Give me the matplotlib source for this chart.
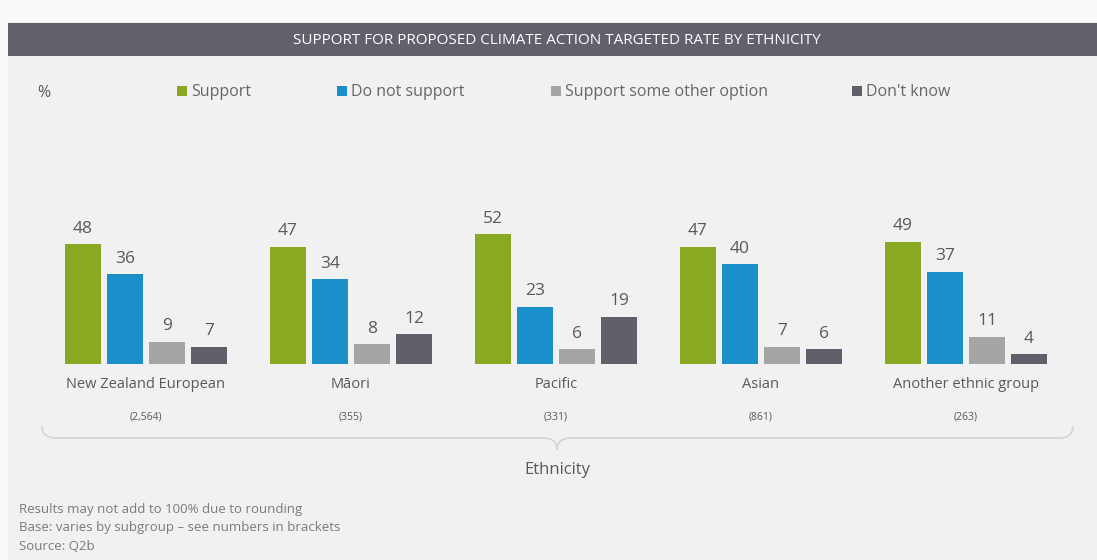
import matplotlib

matplotlib.use("Agg")

import matplotlib.pyplot as plt
import numpy as np
from matplotlib import font_manager
from matplotlib.patches import PathPatch, Rectangle
from matplotlib.path import Path

groups = ["New Zealand European", "Māori", "Pacific", "Asian", "Another ethnic group"]
bases = ["(2,564)", "(355)", "(331)", "(861)", "(263)"]
series = ["Support", "Do not support", "Support some other option", "Don't know"]
support = [48, 47, 52, 47, 49]
not_support = [36, 34, 23, 40, 37]
other_option = [9, 8, 6, 7, 11]
dont_know = [7, 12, 19, 6, 4]
notes = [
    "Results may not add to 100% due to rounding",
    "Base: varies by subgroup \u2013 see numbers in brackets",
    "Source: Q2b",
]

COLORS = ["#8aa923", "#1a8fca", "#a5a5a5", "#615f69"]
BG = "#f1f1f1"
TEXT = "#595959"

W, H = 1097, 560
installed = {f.name for f in font_manager.fontManager.ttflist}
BODY_FONT = "Open Sans" if "Open Sans" in installed else "DejaVu Sans"
TITLE_FONT = "Liberation Sans Narrow" if "Liberation Sans Narrow" in installed else "DejaVu Sans Condensed"
if TITLE_FONT not in installed:
    TITLE_FONT = BODY_FONT
plt.rcParams["font.family"] = [BODY_FONT, "DejaVu Sans"]

fig = plt.figure(figsize=(W / 100, H / 100), dpi=100)
fig.patch.set_facecolor("#fafafa")


def px(x, y):
    """pixel (from top-left) -> figure fraction"""
    return x / W, 1 - y / H


# panel background and title bar
fig.patches.append(Rectangle((8 / W, 0), 1, 1 - 22 / H, transform=fig.transFigure,
                             facecolor=BG, edgecolor="none", zorder=0))
fig.patches.append(Rectangle((8 / W, 1 - 56 / H), 1, 33 / H, transform=fig.transFigure,
                             facecolor="#63606b", edgecolor="none", zorder=1))
fig.text(*px(557, 40), "SUPPORT FOR PROPOSED CLIMATE ACTION TARGETED RATE BY ETHNICITY",
         color="white", fontsize=11, family=TITLE_FONT, ha="center", va="center")

# legend row
fig.text(*px(37, 93), "%", color=TEXT, fontsize=11.5, ha="left", va="center")
legend_x = [177, 337, 551, 852]
for name, color, lx in zip(series, COLORS, legend_x):
    fig.patches.append(Rectangle(px(lx, 96), 10 / W, 10 / H, transform=fig.transFigure,
                                 facecolor=color, edgecolor="none", zorder=2))
    fig.text(*px(lx + 14, 92), name, color="#666666", fontsize=11.5, ha="left", va="center")

# bars: one unit on x = spacing between groups (205 px), 2.5 px per percent
spacing = 205.0
first_center = 146.0
ax = fig.add_axes([0, (H - 364) / H, 1, 300 / H])
ax.set_zorder(3)
ax.set_xlim(-first_center / spacing, (W - first_center) / spacing)
ax.set_ylim(0, 120)
ax.axis("off")

x = np.arange(len(groups))
step = 42 / spacing
width = 36 / spacing
for i, (values, color) in enumerate(zip([support, not_support, other_option, dont_know], COLORS)):
    pos = x + (i - 1.5) * step
    bars = ax.bar(pos, values, width=width, color=color)
    for bar, v in zip(bars, values):
        ax.text(bar.get_x() + bar.get_width() / 2, v + 2.9, f"{v}",
                ha="center", va="bottom", fontsize=12.5, color=TEXT)

for xi, name, base in zip(x, groups, bases):
    ax.text(xi, -8.4, name, ha="center", va="center", fontsize=10.5, color=TEXT, clip_on=False)
    ax.text(xi, -21.3, base, ha="center", va="center", fontsize=7.5, color=TEXT, clip_on=False)

# curly brace under the groups
left, right, mid = 42, 1073, 557
y_top, y_line, y_tip = 426, 438, 450


def to_fig(points):
    return [(px_x / W, 1 - px_y / H) for px_x, px_y in points]


brace = [
    (left, y_top), (left, y_line), (left + 14, y_line),
    (mid - 14, y_line), (mid, y_line), (mid, y_tip),
    (mid, y_line), (mid + 14, y_line),
    (right - 14, y_line), (right, y_line), (right, y_top),
]
codes = [Path.MOVETO, Path.CURVE3, Path.CURVE3,
         Path.LINETO, Path.CURVE3, Path.CURVE3,
         Path.CURVE3, Path.CURVE3,
         Path.LINETO, Path.CURVE3, Path.CURVE3]
fig.patches.append(PathPatch(Path(to_fig(brace), codes), transform=fig.transFigure,
                             facecolor="none", edgecolor="#d4d4d4", linewidth=1.2, zorder=2))
fig.text(*px(557, 470), "Ethnicity", color=TEXT, fontsize=12, ha="center", va="center")

for k, line in enumerate(notes):
    fig.text(*px(19, 509 + k * 18.5), line, color="#7a7a7a", fontsize=9.5, ha="left", va="center")

fig.savefig("out.png", dpi=100, facecolor=fig.get_facecolor())
